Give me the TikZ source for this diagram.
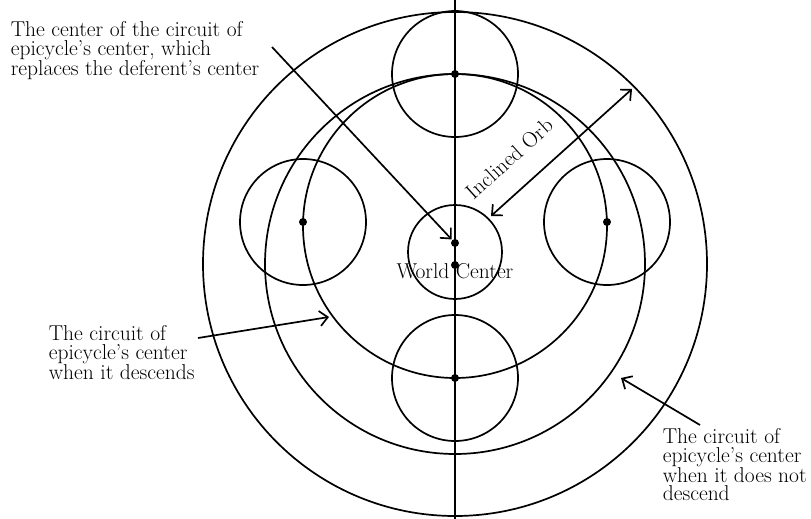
\documentclass[tikz,border=0pt]{standalone}
\usetikzlibrary{arrows.meta}
\begin{document}
\begin{tikzpicture}[x=1pt,y=-1pt,line width=1.7pt,
  dot/.style={circle,fill,inner sep=0pt,minimum size=8pt},
  txt/.style={inner sep=0pt,font=\fontsize{21.5}{18.3}\selectfont},
  lbl/.style={txt,align=left,anchor=north west},
  pointer/.style={-{Straight Barb[length=8pt,width=15pt]}},
]
  \useasboundingbox (0,0) rectangle (811,519);

  % orbs round the world center
  \draw (455,264) circle[radius=252];
  \draw (455,264) circle[radius=190];
  \draw (455,226) circle[radius=152];
  \draw (455,252) circle[radius=47];
  \draw (455,0) -- (455,519);

  % epicycles and their centers
  \foreach \n/\p in {top/{(455,74)},left/{(303,222)},right/{(607,222)},bottom/{(455,378)}} {
    \draw \p circle[radius=63];
    \node[dot] (ep\n) at \p {};
  }
  \node[dot] (cc) at (455,243) {};
  \node[dot] (wc) at (455,265) {};

  \node[txt,anchor=base] (world) at (455,278) {World Center};
  \node[lbl] (deferent) at (10,21) {The center of the circuit of\\epicycle's center, which\\replaces the deferent's center};
  \node[lbl] (descends) at (48,325) {The circuit of\\epicycle's center\\when it descends};
  \node[lbl] (nodescend) at (662,428) {The circuit of\\epicycle's center\\when it does not\\descend};

  \coordinate (a0) at (272,47);
  \coordinate (b0) at (198,338);
  \coordinate (b1) at (329,317);
  \coordinate (c0) at (700,425);
  \coordinate (c1) at (621,378);
  \coordinate (io0) at (491,216);
  \coordinate (io1) at (632,89);

  \draw[pointer] (a0) -- (cc);
  \draw[pointer] (b0) -- (b1);
  \draw[pointer] (c0) -- (c1);
  \draw[{Straight Barb[length=8pt,width=15pt]}-{Straight Barb[length=8pt,width=15pt]}] (io0) -- (io1);
  \node[txt,rotate=42,anchor=base west] (incl) at (473,201) {Inclined Orb};
\end{tikzpicture}
\end{document}
